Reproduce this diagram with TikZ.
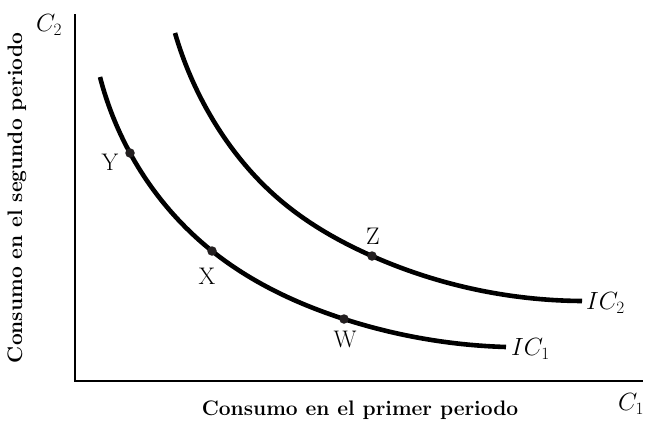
\documentclass[tikz,border=0pt]{standalone}
\usetikzlibrary{hobby}
\definecolor{dotc}{HTML}{231F20}
\begin{document}
\begin{tikzpicture}[x=1pt,y=-1pt,
  axis/.style={line width=1.3pt,black},
  icurve/.style={line width=4.6pt,black},
  pt/.style={circle,fill=dotc,inner sep=0pt,minimum size=9.5pt},
  lbl/.style={font=\fontsize{24}{26}\selectfont,inner sep=0pt},
  axlbl/.style={font=\fontsize{21}{23}\selectfont\bfseries,inner sep=0pt},
  mlbl/.style={font=\fontsize{24}{26}\selectfont,inner sep=0pt}]
\useasboundingbox (0,0) rectangle (645,434);
% axes
\coordinate (O) at (75,381);
\coordinate (ytop) at (75,14);
\coordinate (xend) at (643,381);
\draw[axis] (ytop) -- (O) -- (xend);
% curves
\draw[icurve,use Hobby shortcut] (100,77) .. (130,153) .. (212,251) .. (344,319) .. (506,347);
\draw[icurve,use Hobby shortcut] (175,33) .. (213,120) .. (280,200) .. (372,256) .. (582,301);
% points
\node[pt] (Y) at (130,153) {};
\node[pt] (X) at (212,251) {};
\node[pt] (W) at (344,319) {};
\node[pt] (Z) at (372,256) {};
% point labels
\node[lbl] (Yl) at (110,162) {Y};
\node[lbl] (Xl) at (207,276) {X};
\node[lbl] (Zl) at (373,236) {Z};
\node[lbl] (Wl) at (345,339) {W};
% curve labels
\node[mlbl,anchor=west] (IC1) at (511,349) {$IC_1$};
\node[mlbl,anchor=west] (IC2) at (586,303) {$IC_2$};
% axis end labels
\node[mlbl] (C2) at (49,25) {$C_2$};
\node[mlbl] (C1) at (631,404) {$C_1$};
% axis titles
\node[axlbl] (xt) at (360,410) {Consumo en el primer periodo};
\node[axlbl,rotate=90] (yt) at (17,198) {Consumo en el segundo periodo};
\end{tikzpicture}
\end{document}
